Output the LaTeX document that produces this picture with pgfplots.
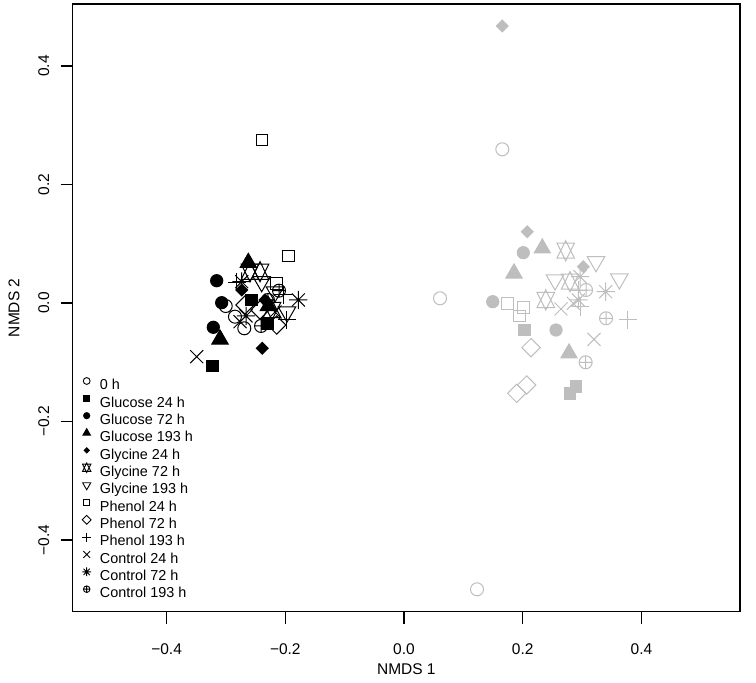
\documentclass[border=0pt]{standalone}
\usepackage{fontspec}
\setmainfont{Liberation Sans}
\usepackage{pgfplots}
\pgfplotsset{compat=1.18}
\usetikzlibrary{calc}
\definecolor{lg}{RGB}{190,190,190}
\pgfdeclareplotmark{david}{%
 \pgfpathmoveto{\pgfqpoint{0pt}{-1.5551\pgfplotmarksize}}%
 \pgfpathlineto{\pgfqpoint{1.3468\pgfplotmarksize}{1.1665\pgfplotmarksize}}%
 \pgfpathlineto{\pgfqpoint{-1.3468\pgfplotmarksize}{1.1665\pgfplotmarksize}}%
 \pgfpathclose
 \pgfpathmoveto{\pgfqpoint{0pt}{1.5551\pgfplotmarksize}}%
 \pgfpathlineto{\pgfqpoint{1.3468\pgfplotmarksize}{-1.1665\pgfplotmarksize}}%
 \pgfpathlineto{\pgfqpoint{-1.3468\pgfplotmarksize}{-1.1665\pgfplotmarksize}}%
 \pgfpathclose
 \pgfusepathqstroke}
\pgfdeclareplotmark{rstar}{%
 \pgfpathmoveto{\pgfqpoint{-0.7071\pgfplotmarksize}{-0.7071\pgfplotmarksize}}%
 \pgfpathlineto{\pgfqpoint{0.7071\pgfplotmarksize}{0.7071\pgfplotmarksize}}%
 \pgfpathmoveto{\pgfqpoint{-0.7071\pgfplotmarksize}{0.7071\pgfplotmarksize}}%
 \pgfpathlineto{\pgfqpoint{0.7071\pgfplotmarksize}{-0.7071\pgfplotmarksize}}%
 \pgfpathmoveto{\pgfqpoint{-\pgfplotmarksize}{0pt}}%
 \pgfpathlineto{\pgfqpoint{\pgfplotmarksize}{0pt}}%
 \pgfpathmoveto{\pgfqpoint{0pt}{-\pgfplotmarksize}}%
 \pgfpathlineto{\pgfqpoint{0pt}{\pgfplotmarksize}}%
 \pgfusepathqstroke}
\pgfdeclareplotmark{rdiamond}{%
 \pgfpathmoveto{\pgfqpoint{0pt}{\pgfplotmarksize}}%
 \pgfpathlineto{\pgfqpoint{\pgfplotmarksize}{0pt}}%
 \pgfpathlineto{\pgfqpoint{0pt}{-\pgfplotmarksize}}%
 \pgfpathlineto{\pgfqpoint{-\pgfplotmarksize}{0pt}}%
 \pgfpathclose
 \pgfusepathqstroke}
\pgfdeclareplotmark{rdiamond*}{%
 \pgfpathmoveto{\pgfqpoint{0pt}{\pgfplotmarksize}}%
 \pgfpathlineto{\pgfqpoint{\pgfplotmarksize}{0pt}}%
 \pgfpathlineto{\pgfqpoint{0pt}{-\pgfplotmarksize}}%
 \pgfpathlineto{\pgfqpoint{-\pgfplotmarksize}{0pt}}%
 \pgfpathclose
 \pgfusepathqfill}
\pgfplotsset{
 pzero/.style={mark=o, mark size=6.5},
 pglua/.style={mark=square*, mark size=5.9},
 pglub/.style={mark=*, mark size=6.1},
 pgluc/.style={mark=triangle*, mark size=9.4},
 pglya/.style={mark=rdiamond*, mark size=6.6},
 pglyb/.style={mark=david, mark size=6.5},
 pglyc/.style={mark=triangle, mark size=10.1, mark options={rotate=180}},
 pphea/.style={mark=square, mark size=5.76},
 ppheb/.style={mark=rdiamond, mark size=9.19},
 pphec/.style={mark=+, mark size=9.19},
 pcona/.style={mark=x, mark size=9.19},
 pconb/.style={mark=rstar, mark size=9.19},
 pconc/.style={mark=oplus, mark size=6.5},
}
\begin{document}
\begin{tikzpicture}
\begin{axis}[
 scale only axis, width=667.3pt, height=607.7pt,
 xmin=-0.5582, xmax=0.5661, ymin=-0.5210, ymax=0.5046,
 font=\fontsize{15.5}{18}\selectfont,
 axis line style={line width=1.1pt, black},
 tick pos=left, tick align=outside, major tick length=12pt,
 every tick/.style={line width=1.1pt, black},
 xtick={-0.4,-0.2,0,0.2,0.4}, xticklabels={−0.4,−0.2,0.0,0.2,0.4},
 ytick={-0.4,-0.2,0,0.2,0.4}, yticklabels={−0.4,−0.2,0.0,0.2,0.4},
 xticklabel style={anchor=center}, xticklabel shift=25pt,
 yticklabel style={rotate=90, anchor=center}, yticklabel shift=17pt,
 xlabel={NMDS 1}, ylabel={NMDS 2},
 xlabel style={at={(axis description cs:0.5,-0.0943)}, anchor=center},
 ylabel style={at={(axis description cs:-0.0880,0.5)}, anchor=center, rotate=0},
 every axis plot/.append style={only marks, line width=1pt},
 legend image code/.code={\path[draw=none, fill=none] (0pt,0pt) rectangle (9pt,10pt); \draw[#1] plot coordinates {(4.5pt,5pt)};},
 legend style={draw=none, fill=none, inner sep=0pt, outer sep=0pt,
   at={(axis cs:-0.5422,-0.1232)}, anchor=north west,
   font=\fontsize{14.4}{16}\selectfont, row sep=0.6pt, column sep=8.8pt,
   nodes={inner sep=0pt, text height=10.5pt, text depth=3pt}},
 legend cell align=left,
]
% black cluster
\addplot[black, pzero, forget plot] coordinates {(-0.3004,-0.0051) (-0.2848,-0.0231) (-0.2691,-0.0427)};
\addplot[black, pglua, forget plot] coordinates {(-0.3223,-0.1063) (-0.2566,0.0051) (-0.2303,-0.0343)};
\addplot[black, pglub, forget plot] coordinates {(-0.3156,0.0376) (-0.3072,0.0005) (-0.3213,-0.0410)};
\addplot[black, pgluc, forget plot] coordinates {(-0.2623,0.0680) (-0.3100,-0.0613) (-0.2286,-0.0051)};
\addplot[black, pglya, forget plot] coordinates {(-0.2388,-0.0765) (-0.2735,0.0219) (-0.2342,0.0051)};
\addplot[black, pglyb, forget plot] coordinates {(-0.2595,0.0528) (-0.2426,0.0528) (-0.2224,-0.0118)};
\addplot[black, pglyc, forget plot] coordinates {(-0.2398,0.0360) (-0.2174,0.0186) (-0.1971,-0.0152)};
\addplot[black, pphea, forget plot] coordinates {(-0.2393,0.2751) (-0.1949,0.0793) (-0.2145,0.0332)};
\addplot[black, ppheb, forget plot] coordinates {(-0.2145,-0.0371) (-0.2426,-0.0118) (-0.2679,-0.0034)};
\addplot[black, pphec, forget plot] coordinates {(-0.2034,0.0135) (-0.1976,-0.0287) (-0.2814,0.0354)};
\addplot[black, pcona, forget plot] coordinates {(-0.3493,-0.0906) (-0.2763,-0.0316) (-0.2174,-0.0152)};
\addplot[black, pconb, forget plot] coordinates {(-0.1781,0.0051) (-0.2735,0.0360) (-0.2662,-0.0219)};
\addplot[black, pconc, forget plot] coordinates {(-0.2409,-0.0388) (-0.2106,0.0208) (-0.2292,0.0051)};
% grey cluster
\addplot[lg, pzero, forget plot] coordinates {(0.0607,0.0079) (0.1656,0.2594) (0.1230,-0.4832)};
\addplot[lg, pglua, forget plot] coordinates {(0.2027,-0.0456) (0.2898,-0.1413) (0.2797,-0.1524)};
\addplot[lg, pglub, forget plot] coordinates {(0.2010,0.0849) (0.1495,0.0022) (0.2561,-0.0456)};
\addplot[lg, pgluc, forget plot] coordinates {(0.2330,0.0923) (0.1853,0.0501) (0.2780,-0.0849)};
\addplot[lg, pglya, forget plot] coordinates {(0.1656,0.4675) (0.2077,0.1203) (0.3021,0.0613)};
\addplot[lg, pglyb, forget plot] coordinates {(0.2724,0.0883) (0.2388,0.0051) (0.2797,0.0360)};
\addplot[lg, pglyc, forget plot] coordinates {(0.3235,0.0697) (0.3628,0.0405) (0.2544,0.0388)};
\addplot[lg, pphea, forget plot] coordinates {(0.1741,-0.0005) (0.2010,-0.0073) (0.1943,-0.0219)};
\addplot[lg, ppheb, forget plot] coordinates {(0.2140,-0.0754) (0.1899,-0.1524) (0.2067,-0.1384)};
\addplot[lg, pphec, forget plot] coordinates {(0.3769,-0.0287) (0.2966,-0.0062) (0.2937,0.0219)};
\addplot[lg, pcona, forget plot] coordinates {(0.2645,-0.0101) (0.3201,-0.0613) (0.2853,-0.0006)};
\addplot[lg, pconb, forget plot] coordinates {(0.3398,0.0191) (0.2966,0.0444) (0.2937,0.0051)};
\addplot[lg, pconc, forget plot] coordinates {(0.3067,0.0219) (0.3404,-0.0258) (0.3061,-0.1001)};
% legend
\addlegendimage{black, line width=0.9pt, mark=o, mark size=3.4}\addlegendentry{0 h}
\addlegendimage{black, line width=0.9pt, mark=square*, mark size=2.9}\addlegendentry{Glucose 24 h}
\addlegendimage{black, line width=0.9pt, mark=*, mark size=3.1}\addlegendentry{Glucose 72 h}
\addlegendimage{black, line width=0.9pt, mark=triangle*, mark size=4.4}\addlegendentry{Glucose 193 h}
\addlegendimage{black, line width=0.9pt, mark=rdiamond*, mark size=3.2}\addlegendentry{Glycine 24 h}
\addlegendimage{black, line width=0.9pt, mark=david, mark size=3.1}\addlegendentry{Glycine 72 h}
\addlegendimage{black, line width=0.9pt, mark=triangle, mark size=4.7, mark options={rotate=180}}\addlegendentry{Glycine 193 h}
\addlegendimage{black, line width=0.9pt, mark=square, mark size=2.9}\addlegendentry{Phenol 24 h}
\addlegendimage{black, line width=0.9pt, mark=rdiamond, mark size=4.4}\addlegendentry{Phenol 72 h}
\addlegendimage{black, line width=0.9pt, mark=+, mark size=4.5}\addlegendentry{Phenol 193 h}
\addlegendimage{black, line width=0.9pt, mark=x, mark size=4.8}\addlegendentry{Control 24 h}
\addlegendimage{black, line width=0.9pt, mark=rstar, mark size=4.4}\addlegendentry{Control 72 h}
\addlegendimage{black, line width=0.9pt, mark=oplus, mark size=3.3}\addlegendentry{Control 193 h}
\end{axis}
\path (current axis.south west) ++(-72.7pt,-70.3pt) coordinate (BBA);
\path (current axis.north east) ++(16pt,4pt) coordinate (BBB);
\pgfresetboundingbox
\path (BBA) rectangle (BBB);
\end{tikzpicture}
\end{document}
